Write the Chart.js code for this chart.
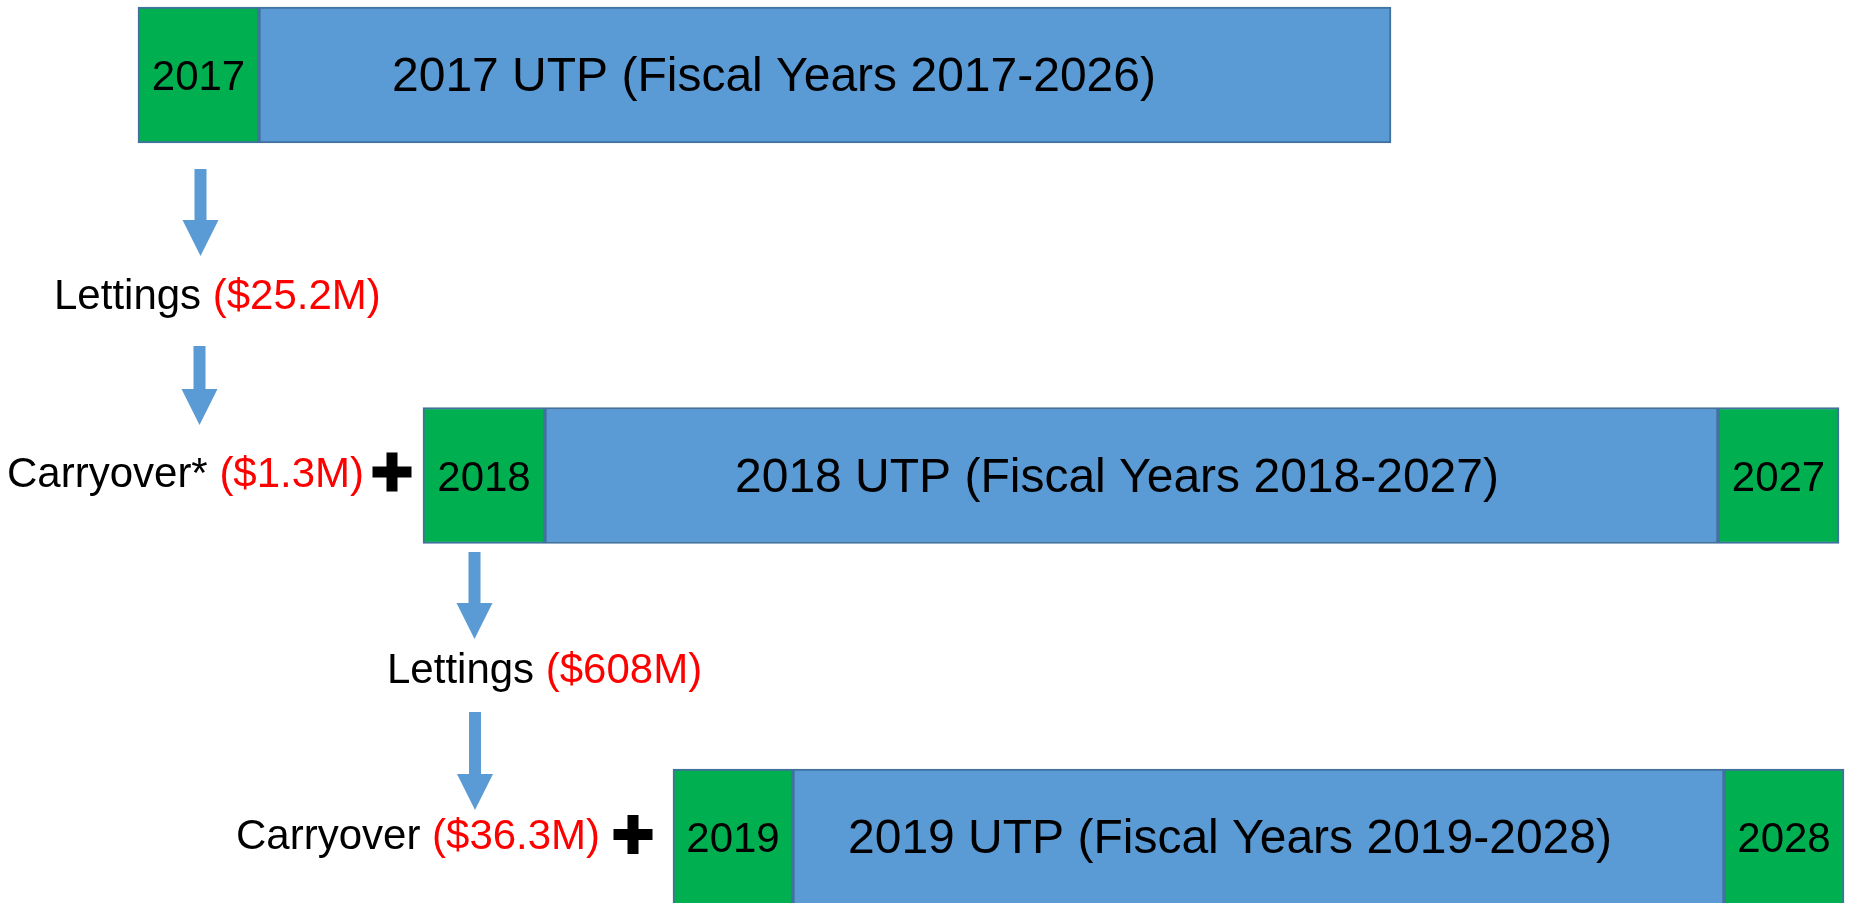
<!DOCTYPE html>
<html>
<head>
<meta charset="utf-8">
<script src="https://cdn.jsdelivr.net/npm/chart.js@4.4.1/dist/chart.umd.min.js"></script>
<style>
  html, body { margin: 0; padding: 0; background: #fff; overflow: hidden; }
  #wrap { width: 1853px; height: 903px; }
</style>
</head>
<body>
<div id="wrap"><canvas id="utp" width="1853" height="903"></canvas></div>
<script>
// ── plan rows (y units, 0 = top) ─────────────────────────────
const planRows   = [75, 475.5, 837];
const planNames  = ['2017 UTP (Fiscal Years 2017-2026)', '2018 UTP (Fiscal Years 2018-2027)', '2019 UTP (Fiscal Years 2019-2028)'];
const firstYears = ['2017', '2018', '2019'];
const lastYears  = ['', '2027', '2028'];
// spans along the x axis
const firstSpans = [[138, 259], [423, 545], [673, 793]];
const planSpans  = [[259, 1391], [545, 1718], [793, 1724]];
const lastSpans  = [null, [1718, 1839], [1724, 1844]];
const titleStart = [392, 735, 848];

// ── money flow between plans ────────────────────────────────
const flowLabels  = ['Lettings', 'Carryover*', 'Lettings', 'Carryover'];
const flowAmounts = ['($25.2M)', '($1.3M)', '($608M)', '($36.3M)'];
const flowX       = [54, 7, 387, 236];
const flowY       = [293.5, 471.5, 668, 834];
const plusX       = [null, 392, null, 633];
const arrowX      = [200.5, 199.5, 474.5, 475];
const arrowTop    = [169, 346, 552, 712];
const arrowTip    = [256, 425, 639, 810];

const GREEN = '#00B050', BLUE = '#5B9BD5', EDGE = '#41719C', RED = '#FF0000';
const FONT  = '"Liberation Sans", Arial, sans-serif';
const CAP   = 0.358; // half cap height, in em

function rowsOf(spans, labels) {
  return spans.map((s, i) => s ? { x: s, y: planRows[i], label: labels[i] } : null).filter(Boolean);
}

// texts, arrows and plus signs
const diagramText = {
  id: 'diagramText',
  afterDatasetsDraw(chart) {
    const { ctx, scales: { x, y } } = chart;
    const sets = chart.data.datasets;
    ctx.save();
    ctx.textBaseline = 'alphabetic';

    // year boxes
    ctx.font = '42px ' + FONT;
    ctx.fillStyle = '#000';
    ctx.textAlign = 'center';
    [0, 2].forEach(ds => {
      chart.getDatasetMeta(ds).data.forEach((bar, i) => {
        ctx.fillText(sets[ds].data[i].label, (bar.x + bar.base) / 2, bar.y + 42 * CAP);
      });
    });

    // plan titles
    ctx.font = '48px ' + FONT;
    ctx.textAlign = 'left';
    chart.getDatasetMeta(1).data.forEach((bar, i) => {
      ctx.fillText(sets[1].data[i].label, x.getPixelForValue(titleStart[i]), bar.y - 1 + 48 * CAP);
    });

    // arrows
    ctx.fillStyle = BLUE;
    arrowX.forEach((ax, i) => {
      const cx = x.getPixelForValue(ax);
      const top = y.getPixelForValue(arrowTop[i]);
      const tip = y.getPixelForValue(arrowTip[i]);
      const head = tip - 36;
      ctx.beginPath();
      ctx.moveTo(cx - 6, top);
      ctx.lineTo(cx + 6, top);
      ctx.lineTo(cx + 6, head);
      ctx.lineTo(cx + 18, head);
      ctx.lineTo(cx, tip);
      ctx.lineTo(cx - 18, head);
      ctx.lineTo(cx - 6, head);
      ctx.closePath();
      ctx.fill();
    });

    // flow labels
    ctx.font = '42px ' + FONT;
    flowLabels.forEach((lab, i) => {
      const px = x.getPixelForValue(flowX[i]);
      const py = y.getPixelForValue(flowY[i]) + 42 * CAP;
      ctx.fillStyle = '#000';
      ctx.fillText(lab + ' ', px, py);
      const w = ctx.measureText(lab + ' ').width;
      ctx.fillStyle = RED;
      ctx.fillText(flowAmounts[i], px + w, py);
    });

    // plus signs
    ctx.fillStyle = '#000';
    plusX.forEach((p, i) => {
      if (p === null) return;
      const cx = x.getPixelForValue(p);
      const cy = y.getPixelForValue(flowY[i]) + 0.5;
      ctx.fillRect(cx - 19.5, cy - 5.5, 39, 11);
      ctx.fillRect(cx - 5.5, cy - 19.5, 11, 39);
    });

    ctx.restore();
  }
};

new Chart(document.getElementById('utp'), {
  type: 'bar',
  data: {
    datasets: [
      { label: 'First year', data: rowsOf(firstSpans, firstYears), backgroundColor: GREEN },
      { label: 'Plan',       data: rowsOf(planSpans, planNames),   backgroundColor: BLUE },
      { label: 'Last year',  data: rowsOf(lastSpans, lastYears),   backgroundColor: GREEN }
    ]
  },
  options: {
    indexAxis: 'y',
    responsive: false,
    animation: false,
    devicePixelRatio: 1,
    datasets: { bar: { grouped: false, barThickness: 136, borderColor: EDGE, borderWidth: 2, borderSkipped: false } },
    layout: { padding: 0 },
    plugins: { legend: { display: false }, tooltip: { enabled: false } },
    scales: {
      x: { type: 'linear', min: 0, max: 1853, display: false },
      y: { type: 'linear', min: 0, max: 903, reverse: true, offset: false, display: false }
    }
  },
  plugins: [diagramText]
});
</script>
</body>
</html>
